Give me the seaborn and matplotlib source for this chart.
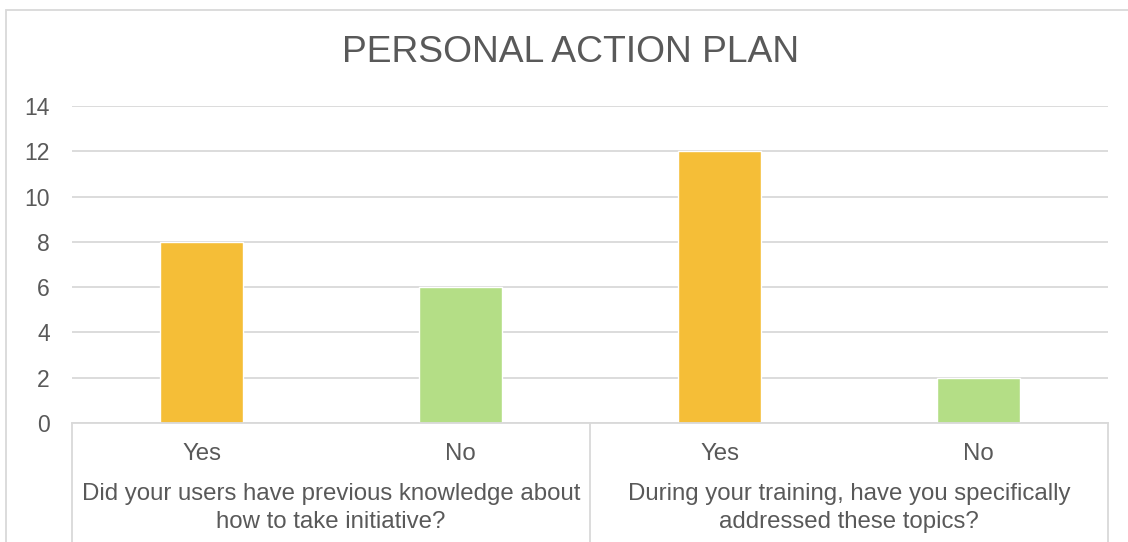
import matplotlib
matplotlib.use("Agg")
import matplotlib.pyplot as plt
import matplotlib.transforms as mtransforms
from matplotlib.patches import Rectangle
import seaborn as sns
import pandas as pd

# ---- data ----
title = "PERSONAL ACTION PLAN"
answers = ["Yes", "No", "Yes", "No"]
values = [8, 6, 12, 2]
groups = ["Did your users have previous knowledge about\nhow to take initiative?",
          "During your training, have you specifically\naddressed these topics?"]
group_sizes = [2, 2]
colors = {"Yes": "#F5BE37", "No": "#B4DE86"}
yticks = [0, 2, 4, 6, 8, 10, 12, 14]

keys = [f"{i}_{a}" for i, a in enumerate(answers)]
df = pd.DataFrame({"key": keys, "answer": answers, "value": values})

sns.set_theme(style="white")
plt.rcParams["font.family"] = ["Liberation Sans", "DejaVu Sans"]

TXT = "#595959"
GRID = "#D9D9D9"
FS = 17.3

W, H = 1128, 542
fig = plt.figure(figsize=(W / 100, H / 100), dpi=100)
left, right, top, bottom = 72, 1108, 106, 423
ax = fig.add_axes([left / W, 1 - bottom / H, (right - left) / W, (bottom - top) / H])

sns.barplot(data=df, x="key", y="value", hue="answer", palette=colors,
            width=0.32, dodge=False, legend=False, ax=ax, saturation=1)

ax.set_xlim(-0.5, len(keys) - 0.5)
ax.set_ylim(0, 14)
ax.set_yticks(yticks)
ax.set_yticklabels([str(t) for t in yticks], fontsize=16.5, color=TXT)
ax.set_xticks(range(len(keys)))
ax.set_xticklabels(answers, fontsize=FS, color=TXT)
ax.tick_params(axis="both", length=0)
ax.tick_params(axis="y", pad=16)
ax.tick_params(axis="x", pad=14.5)
ax.set_xlabel("")
ax.set_ylabel("")
ax.yaxis.grid(True, color=GRID, linewidth=1.3)
ax.set_axisbelow(True)
for s in ["top", "right", "left"]:
    ax.spines[s].set_visible(False)
ax.spines["bottom"].set_color(GRID)
ax.spines["bottom"].set_linewidth(1.3)

# multi-level category axis
trans = mtransforms.blended_transform_factory(ax.transData, ax.transAxes)
axh = bottom - top
start = -0.5
bounds = [start]
for g, n in zip(groups, group_sizes):
    center = start + n / 2
    ax.text(center, (bottom - 508) / axh, g, transform=trans, ha="center", va="center",
            fontsize=FS, color=TXT, linespacing=1.3)
    start += n
    bounds.append(start)
for b in bounds:
    ax.plot([b, b], [0, -0.5], transform=trans, color=GRID, linewidth=1.3, clip_on=False)

# title
fig.text(571 / W, 1 - 53 / H, title, ha="center", va="center", fontsize=26.8, color=TXT)

# chart border
fig.patches.append(Rectangle((6 / W, -0.1), 1.2, 1 - 10 / H + 0.1, transform=fig.transFigure,
                             fill=False, edgecolor=GRID, linewidth=1.3))

fig.savefig("out.png", dpi=100)
